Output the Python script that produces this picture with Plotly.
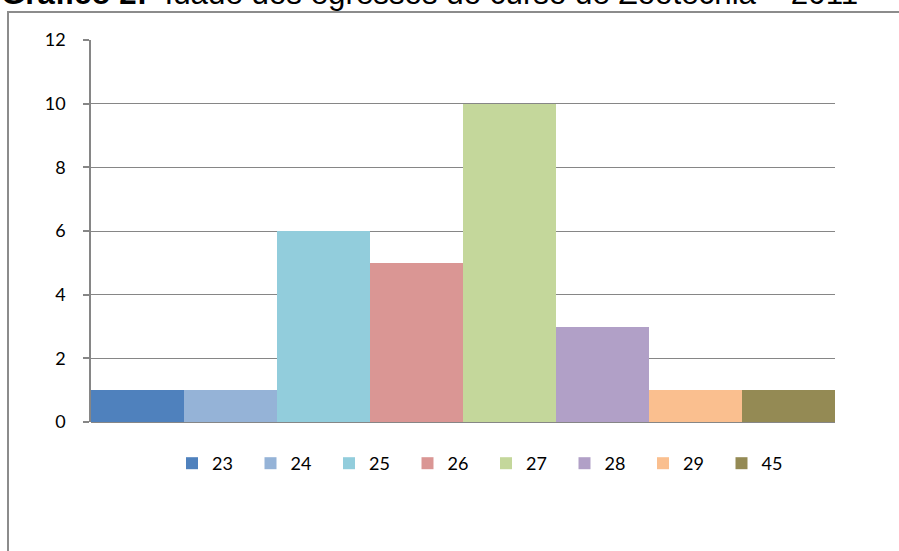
import plotly.graph_objects as go

# Idade dos egressos (anos) e número de egressos em cada idade
idades = ["23", "24", "25", "26", "27", "28", "29", "45"]
egressos = [1, 1, 6, 5, 10, 3, 1, 1]
cores = ["#4F81BD", "#95B3D7", "#92CDDC", "#DA9694",
         "#C4D79B", "#B1A0C7", "#FABF8F", "#948A54"]
y_ticks = [0, 2, 4, 6, 8, 10, 12]

W, H = 899, 551
L, R, T, B = 91, 835, 40, 422  # plot area in pixels


def px_x(px):
    return (px - L) / (R - L)


def px_y(py):
    return (B - py) / (B - T)


fig = go.Figure()
for idade, n, cor in zip(idades, egressos, cores):
    fig.add_trace(go.Bar(
        x=["Idade"], y=[n], name=idade,
        marker=dict(color=cor, line=dict(width=0)),
    ))

grid_col = "#868686"
fig.update_layout(
    width=W, height=H,
    margin=dict(l=L, r=W - R, t=T, b=H - B, autoexpand=False),
    paper_bgcolor="white", plot_bgcolor="white",
    barmode="group", bargap=0, bargroupgap=0,
    font=dict(family="Lato, 'Open Sans', sans-serif", size=18, color="black"),
    showlegend=True,
    legend=dict(
        orientation="h", x=px_x(172), xanchor="left",
        y=px_y(445), yanchor="top",
        entrywidth=33.5, entrywidthmode="pixels",
        font=dict(size=18), traceorder="normal",
        bgcolor="rgba(0,0,0,0)",
    ),
    xaxis=dict(
        showticklabels=False, ticks="", showgrid=False,
        showline=False, zeroline=False, fixedrange=True,
    ),
    yaxis=dict(
        range=[0, 12], tickvals=y_ticks, ticktext=[str(v) for v in y_ticks],
        showgrid=True, gridcolor=grid_col, gridwidth=1,
        zeroline=True, zerolinecolor=grid_col, zerolinewidth=1.5,
        showline=True, linecolor=grid_col, linewidth=1.5,
        ticks="outside", ticklen=6, tickcolor=grid_col, tickwidth=1.5,
        ticklabelstandoff=14,
        layer="below traces",
    ),
    shapes=[dict(
        type="rect", xref="paper", yref="paper",
        x0=px_x(8), x1=px_x(1200), y0=px_y(900), y1=px_y(12),
        line=dict(color="#8C8C8C", width=2), fillcolor="rgba(0,0,0,0)",
        layer="below",
    )],
    annotations=[dict(
        text="<b>Gráfico 2:</b>&nbsp; Idade dos egressos do curso de Zootecnia – 2011",
        xref="paper", yref="paper", x=px_x(-1), y=px_y(13),
        xanchor="left", yanchor="bottom", showarrow=False,
        font=dict(family="'Liberation Sans', Arial, sans-serif", size=31.3,
                  color="black"),
    )],
)

fig.write_html("out.html")
